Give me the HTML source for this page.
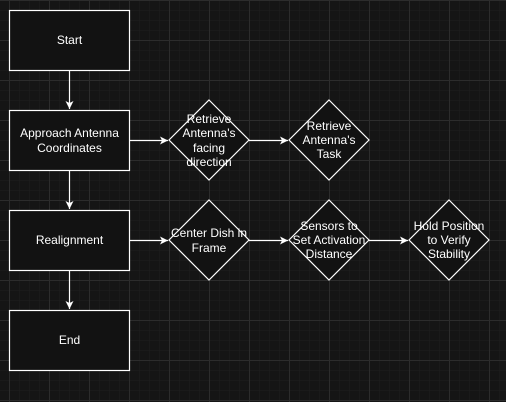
<!DOCTYPE html>
<html><head><style>
html,body{margin:0;padding:0;background:#151515;}
svg{display:block}
text{font-family:"Liberation Sans",Arial,sans-serif;font-size:12px;fill:#fff;text-anchor:middle;}
</style></head><body>
<svg width="506" height="402" xmlns="http://www.w3.org/2000/svg">
<defs>
<pattern id="minor" width="10" height="10" patternUnits="userSpaceOnUse" x="9" y="0">
<path d="M0 0H10M0 0V10" stroke="#1f1f1f" stroke-width="1" fill="none"/>
</pattern>
<pattern id="major" width="40" height="40" patternUnits="userSpaceOnUse" x="9" y="0">
<path d="M0 0.5H40M0.5 0V40" stroke="#2c2c2c" stroke-width="1" fill="none"/>
</pattern>
<marker id="a" markerWidth="10" markerHeight="10" refX="8" refY="5" orient="auto" markerUnits="userSpaceOnUse">
<path d="M0 1L8 5L0 9L2 5Z" fill="#fff"/>
</marker>
</defs>
<rect width="506" height="402" fill="#151515"/>
<rect width="506" height="402" fill="url(#minor)"/>
<rect width="506" height="402" fill="url(#major)"/>
<g stroke="#fff" stroke-width="1.2" fill="#121212">
<rect x="9.5" y="10.5" width="120" height="60"/>
<rect x="9.5" y="110.5" width="120" height="60"/>
<rect x="9.5" y="210.5" width="120" height="60"/>
<rect x="9.5" y="310.5" width="120" height="60"/>
<path d="M209 100L249 140L209 180L169 140Z"/>
<path d="M329 100L369 140L329 180L289 140Z"/>
<path d="M209 200L249 240L209 280L169 240Z"/>
<path d="M329 200L369 240L329 280L289 240Z"/>
<path d="M449 200L489 240L449 280L409 240Z"/>
</g>
<g stroke="#fff" stroke-width="1.2" fill="none" marker-end="url(#a)">
<path d="M69.5 71V109"/>
<path d="M69.5 171V209"/>
<path d="M69.5 271V309"/>
<path d="M130 140.5H168"/>
<path d="M249 140.5H288"/>
<path d="M130 240.5H168"/>
<path d="M249 240.5H288"/>
<path d="M369 240.5H408"/>
</g>
<text x="69.5" y="44">Start</text>
<text x="69.5" y="137">Approach Antenna</text>
<text x="69.5" y="152">Coordinates</text>
<text x="69.5" y="244">Realignment</text>
<text x="69.5" y="344">End</text>
<text x="209" y="123">Retrieve</text>
<text x="209" y="137">Antenna's</text>
<text x="209" y="152">facing</text>
<text x="209" y="166">direction</text>
<text x="329" y="130">Retrieve</text>
<text x="329" y="144">Antenna's</text>
<text x="329" y="158">Task</text>
<text x="209" y="237">Center Dish in</text>
<text x="209" y="252">Frame</text>
<text x="329" y="230">Sensors to</text>
<text x="329" y="244">Set Activation</text>
<text x="329" y="258">Distance</text>
<text x="449" y="230">Hold Position</text>
<text x="449" y="244">to Verify</text>
<text x="449" y="258">Stability</text>
</svg>
</body></html>
